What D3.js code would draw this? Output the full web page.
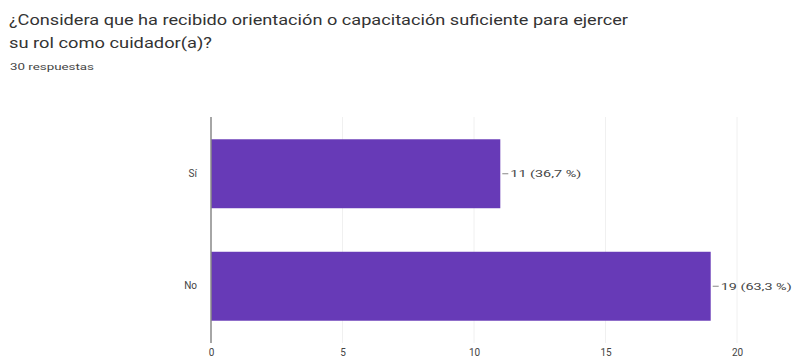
<!DOCTYPE html>
<html>
<head>
<meta charset="utf-8">
<script src="https://cdn.jsdelivr.net/npm/d3@7"></script>
<style>
  html, body { margin: 0; padding: 0; background: #fff; }
  svg { display: block; font-family: Roboto, "Noto Sans", Arial, sans-serif; }
</style>
</head>
<body>
<svg id="chart" width="792" height="364"></svg>
<script>
// Survey answers
const categories = ["Sí", "No"];
const counts = [11, 19];
const percentLabels = ["36,7 %", "63,3 %"];
const tickValues = [0, 5, 10, 15, 20];
const titleLines = [
  "¿Considera que ha recibido orientación o capacitación suficiente para ejercer",
  "su rol como cuidador(a)?"
];
const responsesText = "30 respuestas";

const svg = d3.select("#chart");
const width = 792, height = 364;
const plotTop = 117, plotBottom = 343;

// Header (text is set wide, so each line is given its full run length)
const titleWidths = [619, 203];
svg.selectAll("text.title")
  .data(titleLines)
  .join("text")
  .attr("class", "title")
  .attr("x", 9)
  .attr("y", (d, i) => 25 + i * 23)
  .attr("font-size", 14)
  .attr("fill", "#333")
  .attr("textLength", (d, i) => titleWidths[i])
  .attr("lengthAdjust", "spacingAndGlyphs")
  .text(d => d);

svg.append("text")
  .attr("x", 10)
  .attr("y", 70)
  .attr("font-size", 9)
  .attr("fill", "#444")
  .attr("textLength", 84)
  .attr("lengthAdjust", "spacingAndGlyphs")
  .text(responsesText);

const x = d3.scaleLinear().domain([0, 20]).range([211, 737]);
const y = d3.scaleBand().domain(categories)
  .range([plotTop, plotBottom])
  .paddingInner(0.387).paddingOuter(0.198);

// Vertical grid lines
svg.append("g")
  .selectAll("line")
  .data(tickValues.slice(1))
  .join("line")
  .attr("x1", d => x(d)).attr("x2", d => x(d))
  .attr("y1", plotTop).attr("y2", plotBottom)
  .attr("stroke", "#f0f0f0")
  .attr("stroke-width", 1);

// Bars
svg.append("g")
  .selectAll("rect")
  .data(categories)
  .join("rect")
  .attr("x", x(0))
  .attr("y", d => y(d))
  .attr("width", (d, i) => x(counts[i]) - x(0))
  .attr("height", y.bandwidth())
  .attr("fill", "#673ab7");

// Value labels with leader ticks
const labels = svg.append("g")
  .selectAll("g")
  .data(categories)
  .join("g")
  .attr("transform", (d, i) => `translate(${x(counts[i])},${y(d) + y.bandwidth() / 2})`);
labels.append("line")
  .attr("x1", 2).attr("x2", 8)
  .attr("y1", 0).attr("y2", 0)
  .attr("stroke", "#888").attr("stroke-width", 1);
labels.append("text")
  .attr("x", 10)
  .attr("dy", "0.35em")
  .attr("font-size", 9.5)
  .attr("fill", "#444")
  .attr("textLength", 71)
  .attr("lengthAdjust", "spacingAndGlyphs")
  .text((d, i) => `${counts[i]} (${percentLabels[i]})`);

// Category axis
const yAxis = svg.append("g")
  .attr("transform", `translate(${x(0)},0)`)
  .call(d3.axisLeft(y).tickSize(0).tickPadding(14));
yAxis.select(".domain").remove();
yAxis.selectAll("text")
  .attr("font-size", 10).attr("fill", "#444")
  .attr("font-family", "Roboto, sans-serif");

svg.append("line")
  .attr("x1", x(0)).attr("x2", x(0))
  .attr("y1", plotTop).attr("y2", plotBottom)
  .attr("stroke", "#888").attr("stroke-width", 1.5);

// Value axis
const xAxis = svg.append("g")
  .attr("transform", `translate(0,${plotBottom})`)
  .call(d3.axisBottom(x).tickValues(tickValues).tickSize(0).tickPadding(6).tickFormat(d3.format("d")));
xAxis.select(".domain").remove();
xAxis.selectAll("text")
  .attr("font-size", 10).attr("fill", "#444")
  .attr("font-family", "Roboto, sans-serif");
</script>
</body>
</html>
